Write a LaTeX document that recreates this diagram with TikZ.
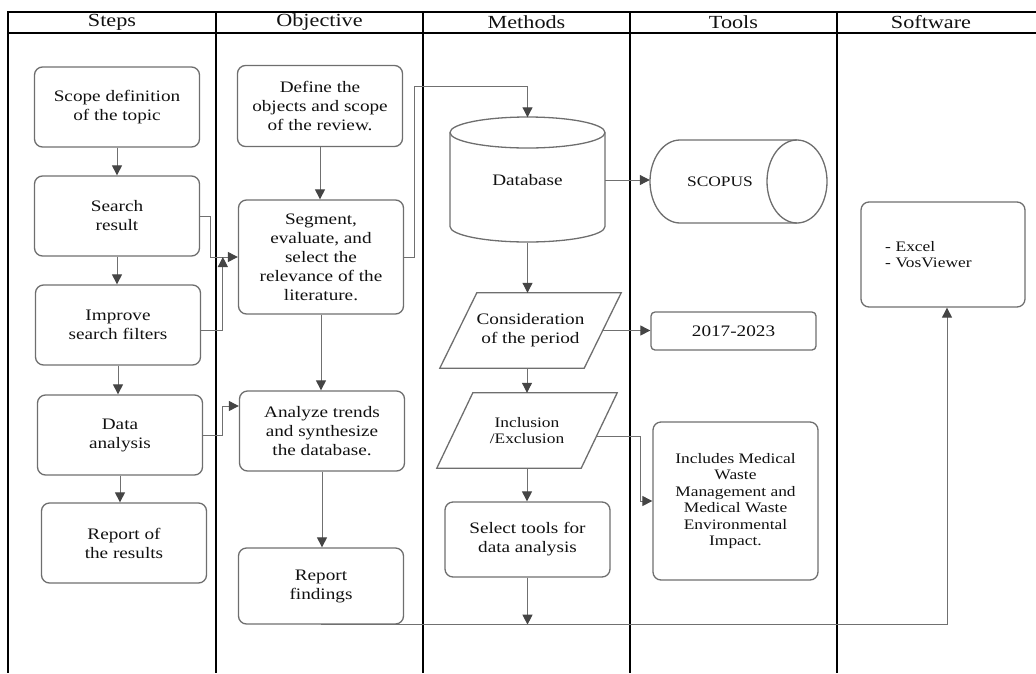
\documentclass[tikz,border=0pt]{standalone}
\usepackage{fontspec}
\setmainfont[FakeStretch=1.2]{Liberation Serif}
\usetikzlibrary{arrows.meta,calc}
\definecolor{boxgray}{HTML}{6E6E6E}
\definecolor{linegray}{HTML}{707070}
\definecolor{tipgray}{HTML}{454545}
\definecolor{txtgray}{HTML}{111111}
\begin{document}
\begin{tikzpicture}[x=1pt,y=-1pt,>={Triangle[length=10pt,width=10pt,color=tipgray]},
  every node/.style={text=txtgray,font=\fontsize{16}{19}\selectfont,align=center,inner sep=0pt},
  box/.style={draw=boxgray,line width=1.3pt,rounded corners=8pt,minimum width=165pt,minimum height=80pt},
  small/.style={font=\fontsize{14.5}{16.5}\selectfont},
  head/.style={font=\fontsize{18.5}{22}\selectfont},
  link/.style={draw=linegray,line width=1pt},
  outline/.style={draw=boxgray,line width=1.3pt}]
\useasboundingbox (0,0) rectangle (1036,673);
\draw[line width=2pt] (7,12)--(1036,12) (7,33)--(1036,33);
\foreach \x in {8,216,423,630,837} \draw[line width=2pt] (\x,11)--(\x,673);
\node[head] (hsteps) at (112,22.5) {Steps};
\node[head] (hobj) at (319.5,22.5) {Objective};
\node[head] (hmeth) at (526.5,22.5) {Methods};
\node[head] (htools) at (733.5,22.5) {Tools};
\node[head] (hsoft) at (931,22.5) {Software};
\node[box] (scope) at (117,107) {Scope definition\\of the topic};
\node[box] (search) at (117,216) {Search\\result};
\node[box] (improve) at (118,325) {Improve\\search filters};
\node[box] (data) at (120,435) {Data\\analysis};
\node[box] (report) at (124,543) {Report of\\the results};
\node[box,minimum height=81pt] (define) at (320,106) {Define the\\objects and scope\\of the review.};
\node[box,minimum height=114pt] (segment) at (321,257) {Segment,\\evaluate, and\\select the\\relevance of the\\literature.};
\node[box] (analyze) at (322,431) {Analyze trends\\and synthesize\\the database.};
\node[box,minimum height=76pt] (findings) at (321,586) {Report\\findings};
\node[minimum width=155pt,minimum height=125pt] (db) at (527.5,180) {Database};
\draw[outline] (527.5,132.5) ellipse [x radius=77.5pt,y radius=15.5pt];
\draw[outline] (450,132.5) -- (450,226.5) arc[start angle=180,end angle=360,x radius=77.5pt,y radius=15.5pt] -- (605,132.5);
\node[small,minimum width=140pt,minimum height=83pt] (scopus) at (720,181.5) {SCOPUS};
\draw[outline] (797,181.5) ellipse [x radius=30pt,y radius=41.5pt];
\draw[outline] (797,140) -- (680,140) arc[start angle=90,end angle=270,x radius=30pt,y radius=41.5pt] -- (797,223);
\node[minimum width=144pt,minimum height=75pt] (cons) at (530.5,330.5) {Consideration\\of the period};
\draw[outline] ([xshift=18.5pt]cons.north west) -- ([xshift=18.5pt]cons.north east) -- ([xshift=-18.5pt]cons.south east) -- ([xshift=-18.5pt]cons.south west) -- cycle;
\node[small,minimum width=144pt,minimum height=75pt] (incl) at (527,430.5) {Inclusion\\/Exclusion};
\draw[outline] ([xshift=18pt]incl.north west) -- ([xshift=18pt]incl.north east) -- ([xshift=-18pt]incl.south east) -- ([xshift=-18pt]incl.south west) -- cycle;
\node[box,minimum height=75pt] (select) at (527.5,539.5) {Select tools for\\data analysis};
\node[box,minimum height=38pt,rounded corners=4pt] (period) at (733.5,331) {2017-2023};
\node[box,small,minimum height=158pt] (criteria) at (735.5,501) {Includes Medical\\Waste\\Management and\\Medical Waste\\Environmental\\Impact.};
\node[box,small,minimum width=164pt,minimum height=105pt,text width=116pt,align=left] (software) at (943,254.5) {- Excel\\- VosViewer};
\draw[link,->] (scope.south) -- (scope.south |- search.north);
\draw[link,->] (search.south) -- (search.south |- improve.north);
\draw[link,->] (improve.south) -- (improve.south |- data.north);
\draw[link,->] (data.south) -- (data.south |- report.north);
\draw[link,->] (define.south) -- (define.south |- segment.north);
\draw[link,->] (segment.south) -- (segment.south |- analyze.north);
\draw[link,->] (analyze.south) -- (analyze.south |- findings.north);
\draw[link,->] (search.east) -- ++(10,0) |- (segment.west);
\draw[link,->] ([yshift=-5pt]improve.east) -| ($(segment.west)+(-15,0)$);
\draw[link,->] (data.east) -- ++(19,0) |- ([yshift=25pt]analyze.west);
\draw[link,->] (segment.east) -- ++(10,0) |- ($(db.north)+(0,-31)$) -- (db.north);
\draw[link,->] (db.east) -- (db.east -| scopus.west);
\draw[link,->] (db.south) -- (db.south |- cons.north);
\draw[link,->] (cons.east) -- (cons.east -| period.west);
\draw[link,->] (incl.north |- cons.south) -- (incl.north);
\draw[link,->] (incl.south) -- (incl.south |- select.north);
\draw[link,->] ([shift={(-3pt,-6pt)}]incl.east) -- ++(44,0) |- (criteria.west);
\draw[link,->] (select.south) -- (select.south |- findings.south);
\draw[link,->] (findings.south) -| ([xshift=4pt]software.south);
\end{tikzpicture}
\end{document}
